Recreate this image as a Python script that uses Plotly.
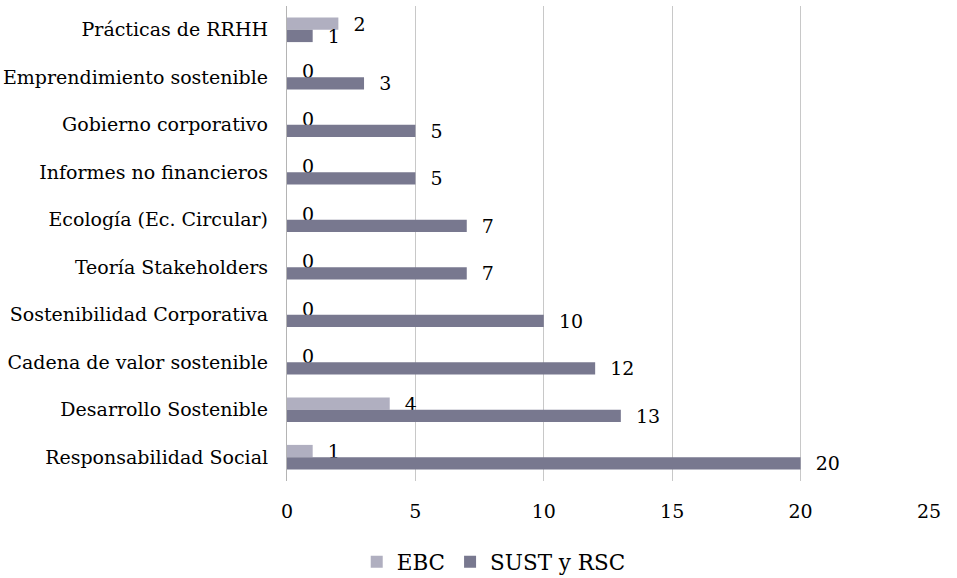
import plotly.graph_objects as go

categories = [
    "Prácticas de RRHH",
    "Emprendimiento sostenible",
    "Gobierno corporativo",
    "Informes no financieros",
    "Ecología (Ec. Circular)",
    "Teoría Stakeholders",
    "Sostenibilidad Corporativa",
    "Cadena de valor sostenible",
    "Desarrollo Sostenible",
    "Responsabilidad Social",
]
ebc = [2, 0, 0, 0, 0, 0, 0, 0, 4, 1]
sust = [1, 3, 5, 5, 7, 7, 10, 12, 13, 20]
x_ticks = [0, 5, 10, 15, 20, 25]

FONT = "DejaVu Serif"
LBL = dict(family=FONT, size=19, color="#000000")

fig = go.Figure()
fig.add_trace(go.Bar(
    name="EBC", y=categories, x=ebc, orientation="h",
    marker=dict(color="#b0afc0", line=dict(width=0)),
    text=["  " + str(v) for v in ebc], textposition="outside",
    textfont=LBL, outsidetextfont=LBL, constraintext="none",
    cliponaxis=False,
))
fig.add_trace(go.Bar(
    name="SUST y RSC", y=categories, x=sust, orientation="h",
    marker=dict(color="#78788f", line=dict(width=0)),
    text=["  " + str(v) for v in sust], textposition="outside",
    textfont=LBL, outsidetextfont=LBL, constraintext="none",
    cliponaxis=False,
))

fig.update_layout(
    width=957, height=578,
    margin=dict(l=287, r=28, t=6, b=97, autoexpand=False),
    paper_bgcolor="white", plot_bgcolor="white",
    barmode="group", bargap=0.48, bargroupgap=0,
    font=dict(family=FONT, color="#000000"),
    showlegend=True,
    legend=dict(orientation="h", x=0.322, xanchor="center", y=-0.17, yanchor="middle",
                font=dict(family=FONT, size=21.5), itemwidth=30, traceorder="normal",
                tracegroupgap=0),
    xaxis=dict(range=[0, 25], tickvals=x_ticks, showgrid=True, gridcolor="#c8c8c8", gridwidth=1.3,
               zeroline=False, showline=False, ticks="", tickfont=dict(family=FONT, size=19),
               ticklabelstandoff=17, fixedrange=True),
    yaxis=dict(autorange="reversed", showline=True, linecolor="#b4b4b4", linewidth=1.3,
               ticks="", tickfont=dict(family=FONT, size=19), ticklabelstandoff=14,
               showgrid=False, zeroline=False),
)

fig.write_html("out.html")
